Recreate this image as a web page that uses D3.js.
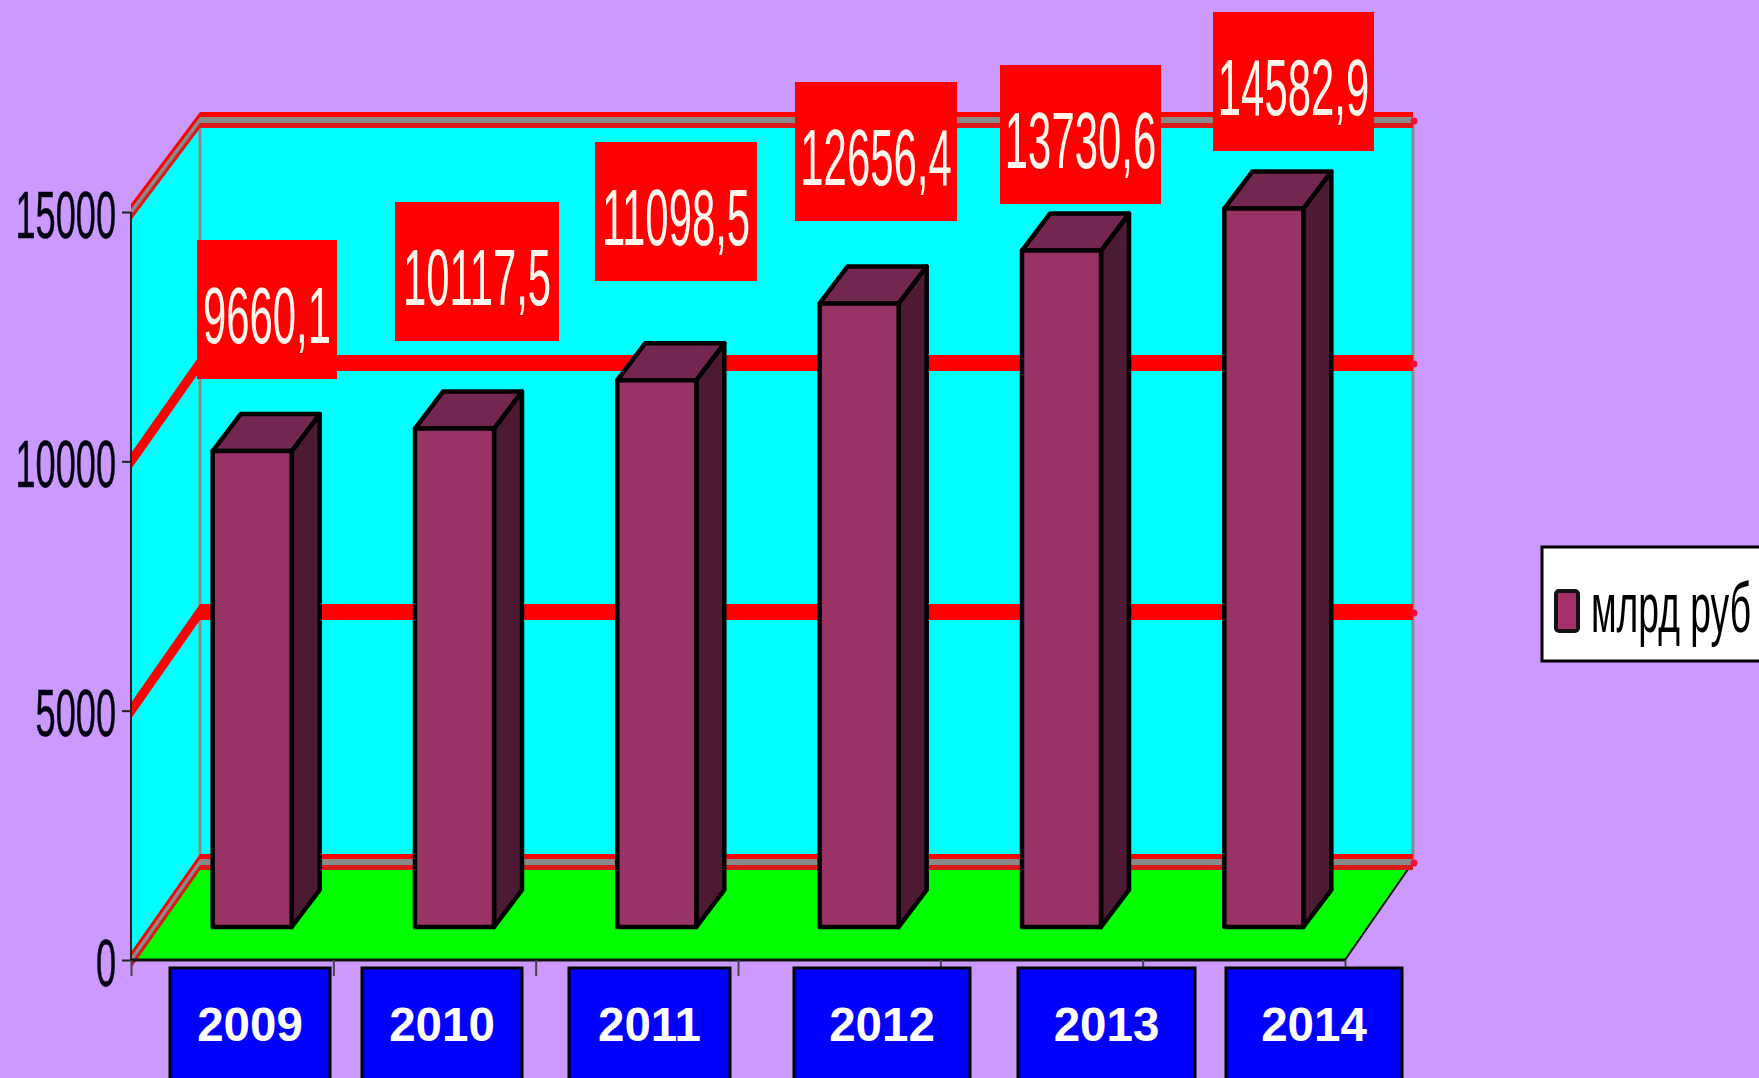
<!DOCTYPE html>
<html>
<head>
<meta charset="utf-8">
<script src="https://cdn.jsdelivr.net/npm/d3@7"></script>
<style>
html,body{margin:0;padding:0;background:#cc99ff;overflow:hidden}
svg{display:block}
</style>
</head>
<body>
<svg id="chart" width="1759" height="1078"></svg>
<script>
// ---- data ----
const years = ["2009", "2010", "2011", "2012", "2013", "2014"];
const values = [9660.1, 10117.5, 11098.5, 12656.4, 13730.6, 14582.9];
const yTicks = [0, 5000, 10000, 15000];
const legendLabel = "млрд руб";

// ---- layout (hand-placed label boxes of the original slide) ----
const valueBoxX = [197, 395, 595, 795, 1000, 1213];
const valueBoxY = [240, 202, 142, 82, 65, 12];
const valueBoxW = [140, 164, 162, 162, 161, 161];
const valueBoxH = 139;
const yearBoxX = [170, 362, 569, 794, 1018, 1226];
const yearBoxW = [160, 160, 161, 176, 177, 176];

const svg = d3.select("#chart");
const W = 1759, H = 1078;
const C = {bg:"#cc99ff", wall:"#00ffff", floor:"#00ff00", red:"#ff0000", redDark:"#d81a1a", gray:"#8a8a8a",
           front:"#993366", top:"#732650", side:"#4d1a33", ink:"#000010", blue:"#0000ff"};

const frontLeft = 131, frontRight = 1345, backLeft = 200, backRight = 1413;
const yFront = d3.scaleLinear().domain([0, 15000]).range([960, 212]);
const yBack = d3.scaleLinear().domain(yTicks).range([862, 612, 363, 120]);
const yBar = d3.scaleLinear().domain([0, 15000]).range([927, 188]);
const x = d3.scaleBand().domain(years).range([frontLeft, frontRight]);
const fmt = d3.formatLocale({decimal:",", thousands:"", grouping:[3], currency:["",""]}).format(".1f");

svg.append("rect").attr("width", W).attr("height", H).attr("fill", C.bg);

// walls and floor
const poly = pts => d3.line()(pts) + "Z";
const y0f = yFront(0), y1f = yFront(15000), y0b = yBack(0), y1b = yBack(15000);
svg.append("path").attr("d", poly([[frontLeft,y1f],[backLeft,y1b],[backLeft,y0b],[frontLeft,y0f]])).attr("fill", C.wall);
svg.append("path").attr("d", poly([[backLeft,y1b],[backRight,y1b],[backRight,y0b],[backLeft,y0b]])).attr("fill", C.wall);
svg.append("path").attr("d", poly([[frontLeft,y0f],[backLeft,y0b],[backRight,y0b],[frontRight,y0f]])).attr("fill", C.floor);
// wall edges
svg.append("line").attr("x1",backLeft).attr("x2",backLeft).attr("y1",y1b).attr("y2",y0b).attr("stroke",C.gray).attr("stroke-width",3);
svg.append("line").attr("x1",backRight).attr("x2",backRight).attr("y1",y1b).attr("y2",y0b).attr("stroke",C.gray).attr("stroke-width",3);
svg.append("line").attr("x1",backRight).attr("x2",frontRight).attr("y1",y0b).attr("y2",y0f).attr("stroke","#111").attr("stroke-width",2);

// gridlines: bands wrapping the left wall and the back wall
const band = (v, a, b) => d3.area().x(d => d[0]).y0(d => d[1] + a).y1(d => d[1] + b)(
  [[frontLeft, yFront(v)], [backLeft, yBack(v)], [backRight, yBack(v)]]);
const grid = svg.append("g");
yTicks.forEach(v => {
  const framed = v === 0 || v === 15000;
  grid.append("path").attr("d", band(v, -8, 8)).attr("fill", C.red);
  if (framed) {
    grid.append("path").attr("d", band(v, 3, 8)).attr("fill", C.redDark);
    grid.append("path").attr("d", band(v, -3, 3)).attr("fill", C.gray);
  }
  grid.append("circle").attr("cx", backRight + 1).attr("cy", yBack(v) + 1).attr("r", 3.5).attr("fill", "#f0103a");
});

// axes
const yAxis = d3.axisLeft(yFront).tickValues(yTicks).tickSize(9).tickFormat(d3.format("d"));
const gy = svg.append("g").attr("transform", `translate(${frontLeft},0)`).call(yAxis);
gy.select(".domain").attr("stroke", "#222").attr("stroke-width", 2).attr("d", `M0,${y1f}V${y0f}`);
gy.selectAll(".tick line").attr("stroke", "#222").attr("stroke-width", 2);
gy.selectAll(".tick text")
  .attr("x", null).attr("dy", null)
  .attr("transform", "translate(-15,25) scale(0.54,1)")
  .attr("text-anchor", "end")
  .attr("font-family", "'Liberation Sans', Arial, sans-serif")
  .attr("font-size", 67)
  .attr("fill", C.ink).attr("stroke", C.ink).attr("stroke-width", 0.5);

const edge = d3.scaleLinear().domain([0, years.length]).range([frontLeft, frontRight]);
const xAxis = d3.axisBottom(edge).ticks(years.length).tickSize(16).tickFormat("");
const gx = svg.append("g").attr("transform", `translate(0,${y0f})`).call(xAxis);
gx.select(".domain").attr("stroke", "#111").attr("stroke-width", 3).attr("d", `M${frontLeft},0H${frontRight}`);
gx.selectAll(".tick line").attr("stroke", "#444").attr("stroke-width", 2);

// bars
const barW = 79, barShift = 20, depthX = 28, depthY = 37;
const bars = svg.append("g").selectAll("g").data(years.map((y, i) => ({y, v: values[i]}))).join("g");
const bx0 = d => x(d.y) + x.bandwidth() / 2 + barShift - barW / 2;
const barStyle = s => s.attr("stroke", "#000").attr("stroke-width", 4.5).attr("stroke-linejoin", "round");
bars.append("path").attr("fill", C.side).call(barStyle).attr("d", d => {
  const a = bx0(d) + barW, t = yBar(d.v), b = yBar(0);
  return poly([[a,t],[a+depthX,t-depthY],[a+depthX,b-depthY],[a,b]]);
});
bars.append("path").attr("fill", C.top).call(barStyle).attr("d", d => {
  const a = bx0(d), t = yBar(d.v);
  return poly([[a,t],[a+depthX,t-depthY],[a+barW+depthX,t-depthY],[a+barW,t]]);
});
bars.append("path").attr("fill", C.front).call(barStyle).attr("d", d => {
  const a = bx0(d), t = yBar(d.v), b = yBar(0);
  return poly([[a,t],[a+barW,t],[a+barW,b],[a,b]]);
});

// value label boxes
const vb = svg.append("g").selectAll("g").data(values).join("g");
vb.append("rect")
  .attr("x", (d,i) => valueBoxX[i]).attr("y", (d,i) => valueBoxY[i])
  .attr("width", (d,i) => valueBoxW[i]).attr("height", valueBoxH).attr("fill", C.red);
vb.append("text")
  .attr("transform", (d,i) => `translate(${valueBoxX[i] + valueBoxW[i]/2},${valueBoxY[i] + 103}) scale(0.53,1)`)
  .attr("text-anchor", "middle")
  .attr("font-family", "'Liberation Sans', Arial, sans-serif")
  .attr("font-size", 79)
  .attr("fill", "#fff6ee")
  .text(d => fmt(d));

// category boxes
const yb = svg.append("g").selectAll("g").data(years).join("g");
yb.append("rect")
  .attr("x", (d,i) => yearBoxX[i]).attr("y", 968)
  .attr("width", (d,i) => yearBoxW[i]).attr("height", 130)
  .attr("fill", C.blue).attr("stroke", "#000").attr("stroke-width", 3);
yb.append("text")
  .attr("x", (d,i) => yearBoxX[i] + yearBoxW[i]/2).attr("y", 1041)
  .attr("text-anchor", "middle")
  .attr("font-family", "'Liberation Sans', Arial, sans-serif")
  .attr("font-weight", "bold").attr("font-size", 47.5)
  .attr("fill", "#fff")
  .text(d => d);

// legend
const lg = svg.append("g");
lg.append("rect").attr("x", 1542).attr("y", 547).attr("width", 240).attr("height", 114)
  .attr("fill", "#fff").attr("stroke", "#000").attr("stroke-width", 3);
lg.append("rect").attr("x", 1556).attr("y", 591).attr("width", 22).attr("height", 40)
  .attr("fill", "#a5306a").attr("stroke", "#111").attr("stroke-width", 4).attr("rx", 3);
const legendText = lg.append("text")
  .attr("font-family", "'Liberation Sans', Arial, sans-serif")
  .attr("font-size", 71)
  .attr("fill", "#000")
  .text(legendLabel);
const fit = 160 / legendText.node().getComputedTextLength();
legendText.attr("transform", `translate(1591,632) scale(${fit},1)`);
</script>
</body>
</html>
